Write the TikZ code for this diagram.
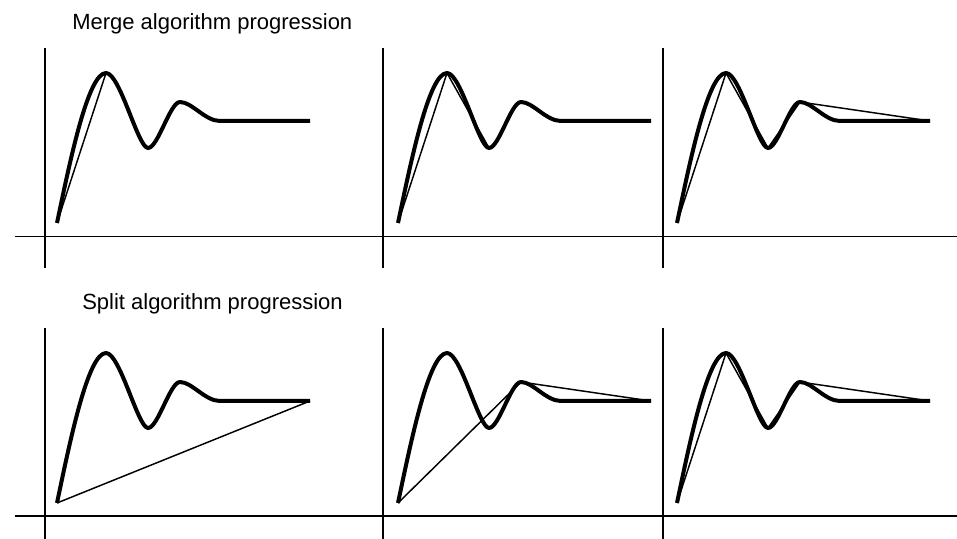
\documentclass[tikz,border=0pt]{standalone}
\usepackage{fontspec}
\setmainfont{Liberation Sans}
\usetikzlibrary{calc}

\begin{document}
\begin{tikzpicture}[x=0.75pt,y=0.75pt,
    axis/.style={line width=0.8pt},
    curve/.style={line width=3pt,line join=round},
    chord/.style={line width=1.1pt,line join=round},
    title/.style={anchor=base west,inner sep=0pt,font=\fontsize{16.5}{20}\selectfont}]
        \useasboundingbox (0,0) rectangle (957,539);
        % titles
        \node[title] (mtitle) at (72,509) {Merge algorithm progression};
        \node[title] (stitle) at (82,229) {Split algorithm progression};
        % axes
        \draw[axis] (15,302.5) -- (957,302.5);
        \draw[axis] (15,23) -- (957,23);
        \foreach \xx in {45,383,663} {
          \draw[axis] (\xx,491) -- (\xx,271);
          \draw[axis] (\xx,211) -- (\xx,0);
        }
        % signal in every panel
        \foreach \row/\yy in {m/316,s/36}
          \foreach \col/\xx in {1/57,2/398,3/677} {
            \begin{scope}[shift={(\xx,\yy)}]
              \coordinate (\row\col-s) at (0,0);
              \coordinate (\row\col-a) at (49,150);
              \coordinate (\row\col-b) at (91,75);
              \coordinate (\row\col-c) at (123,121);
              \coordinate (\row\col-f) at (163,102);
              \coordinate (\row\col-e) at (253,102);
              \draw[curve] (\row\col-s) .. controls (13,62) and (31,150) .. (\row\col-a)
                .. controls (63,150) and (81,75) .. (\row\col-b)
                .. controls (101,75) and (113,121) .. (\row\col-c)
                .. controls (135,121) and (148,102) .. (\row\col-f) -- (\row\col-e);
            \end{scope}
          }
        % merge steps
        \draw[chord] (m1-s) -- (m1-a);
        \draw[chord] (m2-s) -- (m2-a) -- (m2-b);
        \draw[chord] (m3-s) -- (m3-a) -- (m3-b) -- (m3-c) -- (m3-e);
        % split steps
        \draw[chord] (s1-s) -- (s1-e);
        \draw[chord] (s2-s) -- (s2-c) -- (s2-e);
        \draw[chord] (s3-s) -- (s3-a) -- (s3-b) -- (s3-c) -- (s3-e);
      \end{tikzpicture}
\end{document}
